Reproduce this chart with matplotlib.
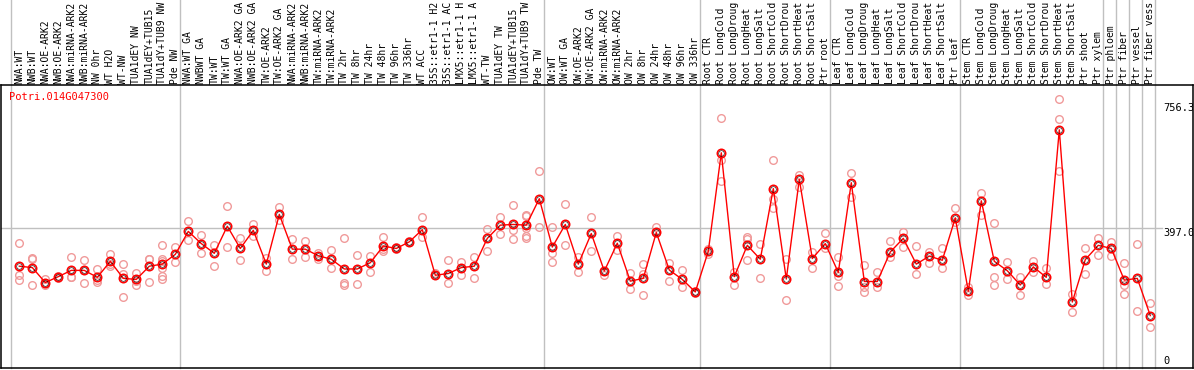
import matplotlib
matplotlib.use("Agg")
import matplotlib.pyplot as plt
import matplotlib.transforms as mtransforms

title = "Potri.014G047300"

labels = [
    "NWA:WT", "NWB:WT", "NWA:OE-ARK2", "NWB:OE-ARK2", "NWA:miRNA-ARK2", "NWB:miRNA-ARK2",
    "NW 0hr", "WT H2O", "WT-NW", "TUA1dEY NW", "TUA1dEY+TUB15", "TUA1dY+TUB9 NW", "Pde NW",
    "NWA:WT GA", "NWBWT GA", "TW:WT", "TW:WT GA", "NWA:OE-ARK2 GA", "NWB:OE-ARK2 GA",
    "TW:OE-ARK2", "TW:OE-ARK2 GA", "NWA:miRNA-ARK2", "NWB:miRNA-ARK2", "TW:miRNA-ARK2",
    "TW:miRNA-ARK2", "TW 2hr", "TW 8hr", "TW 24hr", "TW 48hr", "TW 96hr", "TW 336hr",
    "WT ACC", "35S::etr1-1 H2", "35S::etr1-1 AC", "LMX5::etr1-1 H", "LMX5::etr1-1 A",
    "WT-TW", "TUA1dEY TW", "TUA1dEY+TUB15", "TUA1dY+TUB9 TW", "Pde TW",
    "OW:WT", "OW:WT GA", "OW:OE-ARK2", "OW:OE-ARK2 GA", "OW:miRNA-ARK2", "OW:miRNA-ARK2",
    "OW 2hr", "OW 8hr", "OW 24hr", "OW 48hr", "OW 96hr", "OW 336hr",
    "Root CTR", "Root LongCold", "Root LongDroug", "Root LongHeat", "Root LongSalt",
    "Root ShortCold", "Root ShortDrou", "Root ShortHeat", "Root ShortSalt", "Ptr root",
    "Leaf CTR", "Leaf LongCold", "Leaf LongDroug", "Leaf LongHeat", "Leaf LongSalt",
    "Leaf ShortCold", "Leaf ShortDrou", "Leaf ShortHeat", "Leaf ShortSalt", "Ptr leaf",
    "Stem CTR", "Stem LongCold", "Stem LongDroug", "Stem LongHeat", "Stem LongSalt",
    "Stem ShortCold", "Stem ShortDrou", "Stem ShortHeat", "Stem ShortSalt", "Ptr shoot",
    "Ptr xylem", "Ptr phloem", "Ptr fiber", "Ptr vessel", "Ptr fiber vess",
]

means = [
    288, 284, 241, 258, 276, 276, 256, 302, 253, 250, 288, 294, 322,
    388, 353, 325, 403, 339, 391, 294, 437, 337, 337, 318, 308, 280, 280, 298,
    346, 339, 358, 393, 262, 267, 284, 288, 368, 406, 408, 406, 482,
    343, 408, 294, 382, 274, 354, 245, 253, 385, 277, 250, 214,
    331, 614, 258, 348, 308, 511, 251, 538, 310, 353,
    270, 528, 244, 244, 329, 368, 294, 317, 305, 427,
    216, 476, 302, 275, 234, 286, 256, 680, 185, 307,
    348, 339, 248, 253, 146,
]

replicates = [
    [354, 264, 247], [312, 308, 233], [251, 239, 233], [260, 255], [314, 257, 257],
    [305, 241, 276], [280, 248, 242], [324, 289, 293], [294, 267, 199], [269, 235, 246],
    [310, 244, 310], [348, 310, 303, 283, 260, 251], [343, 301],
    [417, 362], [379, 325], [348, 290], [460, 342], [370, 307], [409, 374], [312, 273],
    [458, 420], [366, 308], [361, 314], [325, 310], [334, 282], [368, 240, 233],
    [320, 237], [318, 271], [371, 336, 332], [344, 336], [358, 360], [428, 372],
    [269, 262], [305, 241], [300, 264], [315, 253], [396, 333], [429, 381],
    [465, 391, 366], [435, 432, 398, 375, 368], [562, 402],
    [402, 327, 300], [468, 348], [315, 272], [428, 333], [274, 264], [374, 335],
    [268, 223], [294, 265, 204], [401, 382], [298, 245], [276, 227], [217, 211],
    [336, 324], [714, 592, 532], [272, 234], [372, 365, 307], [351, 253],
    [594, 482, 456], [308, 191], [551, 515], [329, 282], [382, 341],
    [315, 260, 231], [557, 487], [291, 229, 215], [270, 227], [360, 315], [387, 344],
    [346, 267], [329, 298], [339, 282], [456, 415],
    [229, 206], [498, 436], [411, 256, 233], [299, 250], [258, 205], [303, 272],
    [282, 237], [769, 711, 561], [208, 156], [339, 267],
    [369, 320], [358, 317], [296, 234, 208], [352, 160], [182, 114],
]

separators_after = [-1, 12, 40, 52, 62, 72, 83, 84, 85, 86, 87]
ref_value = 397.0
axis_labels = ["756.3", "397.0", "0"]
axis_label_values = [756.3, 397.0, 0.0]

W, H = 1194, 370
fig = plt.figure(figsize=(W / 100, H / 100), dpi=100)
ax_left, ax_right, ax_top, ax_bottom = 1, 1193, 85, 368
ax = fig.add_axes([ax_left / W, (H - ax_bottom) / H,
                   (ax_right - ax_left) / W, (ax_bottom - ax_top) / H])

x0_px, step_px = 19.3, 13.0
ax.set_xlim((ax_left - x0_px) / step_px, (ax_right - x0_px) / step_px)
ax.set_ylim(-4.6, 808.8)
ax.set_xticks([])
ax.set_yticks([])
for s in ax.spines.values():
    s.set_color("black")
    s.set_linewidth(1.1)

grey = "#c0c0c0"
top_ext = 1 + ax_top / (ax_bottom - ax_top)
for i in separators_after:
    ax.axvline(i + 0.385, ymin=0, ymax=top_ext, color=grey, lw=1, clip_on=False, zorder=1)

x_end = (1162 - x0_px) / step_px
ax.plot([ax.get_xlim()[0], x_end], [ref_value, ref_value], color=grey, lw=1, zorder=1)

xs = list(range(len(labels)))
rx, ry = [], []
for i, reps in enumerate(replicates):
    for v in reps:
        rx.append(i)
        ry.append(v)
ax.plot(rx, ry, linestyle="none", marker="o", ms=5.5, mfc="none", mec="#f09a9a", mew=1.0, zorder=2)

ax.plot(xs, means, color="#ff0000", lw=1, zorder=3)
ax.plot(xs, means, linestyle="none", marker="o", ms=6.0, mfc="none", mec="#ff0000", mew=1.2, zorder=4)
ax.plot(xs, means, linestyle="none", marker="o", ms=4.0, mfc="none", mec="#000000", mew=0.4, zorder=5)

mono = "DejaVu Sans Mono"
trans = mtransforms.blended_transform_factory(ax.transData, ax.transAxes)
lab_y = (ax_bottom - 83.5) / (ax_bottom - ax_top)
for i, lab in enumerate(labels):
    ax.text(i, lab_y, lab, rotation=90, ha="center", va="bottom", fontsize=7,
            family=mono, transform=trans, clip_on=False)

lx = (1163 - x0_px) / step_px
for t, v in zip(axis_labels, axis_label_values):
    ax.text(lx, v, t, ha="left", va="top" if v > 0 else "bottom", fontsize=7.5,
            family=mono, color="black", clip_on=True)

fig.text(9 / W, 1 - 91.5 / H, title, color="#ff0000", ha="left", va="top",
         fontsize=7.5, family=mono)

fig.savefig("out.png", dpi=100)
